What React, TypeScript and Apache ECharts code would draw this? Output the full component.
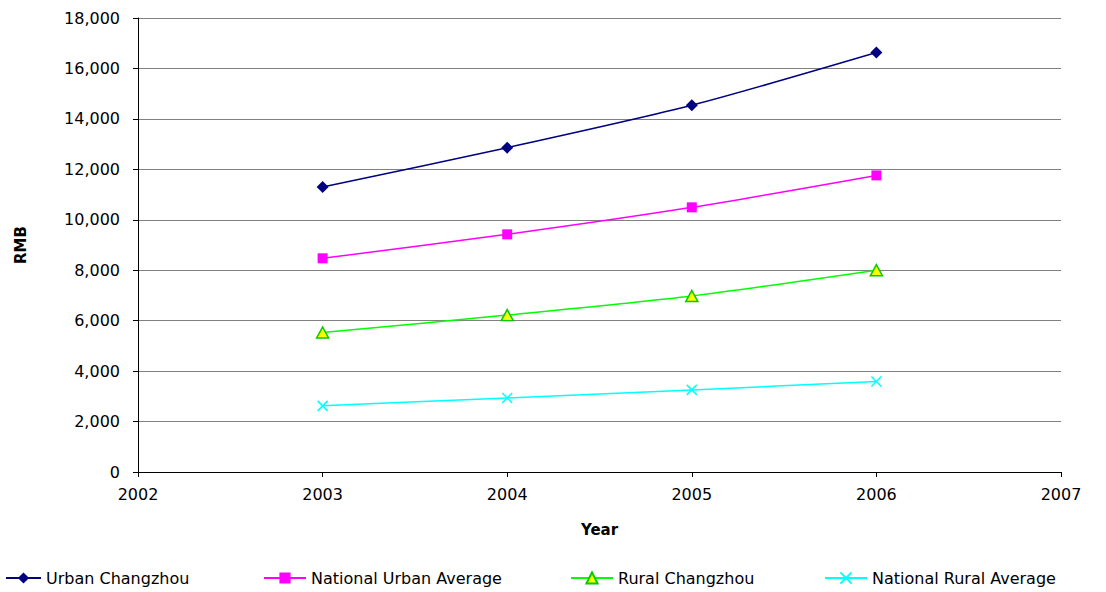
import React, { useEffect, useRef } from "react";
import * as echarts from "echarts";

const years = [2003, 2004, 2005, 2006];
const urbanChangzhou = [11300, 12860, 14540, 16630];
const nationalUrban = [8472, 9422, 10493, 11759];
const ruralChangzhou = [5530, 6220, 6980, 8000];
const nationalRural = [2622, 2936, 3255, 3587];
const seriesNames = [
  "Urban Changzhou",
  "National Urban Average",
  "Rural Changzhou",
  "National Rural Average",
];

const FONT = "DejaVu Sans";

export default function App() {
  const ref = useRef<HTMLDivElement>(null);
  useEffect(() => {
    if (!ref.current) return;
    const chart = echarts.init(ref.current, undefined, { renderer: "svg" });
    const pairs = (vals: number[]) => years.map((y, i) => [y, vals[i]]);
    const legendBase = {
      orient: "horizontal",
      top: 565,
      itemWidth: 42,
      itemHeight: 14,
      textStyle: { fontFamily: FONT, fontSize: 16, color: "#000" },
    };
    chart.setOption({
      animation: false,
      backgroundColor: "#fff",
      grid: { left: 138, right: 45, top: 18, bottom: 120, containLabel: false },
      legend: [
        { ...legendBase, left: 0, itemWidth: 35, data: [seriesNames[0]] },
        { ...legendBase, left: 258, data: [seriesNames[1]] },
        { ...legendBase, left: 565, data: [seriesNames[2]] },
        { ...legendBase, left: 819, data: [seriesNames[3]] },
      ],
      xAxis: {
        type: "value",
        min: 2002,
        max: 2007,
        interval: 1,
        name: "Year",
        nameLocation: "middle",
        nameGap: 50,
        nameTextStyle: { fontFamily: FONT, fontSize: 15, fontWeight: "bold", color: "#000" },
        axisLine: { show: true, onZero: false, lineStyle: { color: "#000", width: 1 } },
        axisTick: { show: true, length: 5, lineStyle: { color: "#000" } },
        axisLabel: { fontFamily: FONT, fontSize: 16, color: "#000", margin: 14, formatter: (v: number) => String(v) },
        splitLine: { show: false },
      },
      yAxis: {
        type: "value",
        min: 0,
        max: 18000,
        interval: 2000,
        name: "RMB",
        nameLocation: "middle",
        nameGap: 110,
        nameRotate: 90,
        nameTextStyle: { fontFamily: FONT, fontSize: 15, fontWeight: "bold", color: "#000" },
        axisLine: { show: true, lineStyle: { color: "#000", width: 1 } },
        axisTick: { show: true, length: 5, lineStyle: { color: "#000" } },
        axisLabel: {
          fontFamily: FONT,
          fontSize: 16,
          color: "#000",
          margin: 18,
          formatter: (v: number) => v.toLocaleString("en-US"),
        },
        splitLine: { show: true, lineStyle: { color: "#808080", width: 1 } },
      },
      series: [
        {
          name: seriesNames[0],
          type: "line",
          data: pairs(urbanChangzhou),
          smooth: 0.25,
          symbol: "diamond",
          symbolSize: 12,
          lineStyle: { color: "#000080", width: 1.5 },
          itemStyle: { color: "#000080" },
        },
        {
          name: seriesNames[1],
          type: "line",
          data: pairs(nationalUrban),
          smooth: 0.25,
          symbol: "rect",
          symbolSize: 10,
          lineStyle: { color: "#FF00FF", width: 1.5 },
          itemStyle: { color: "#FF00FF" },
        },
        {
          name: seriesNames[2],
          type: "line",
          data: pairs(ruralChangzhou),
          smooth: 0.25,
          symbol: "triangle",
          symbolSize: [12, 11],
          lineStyle: { color: "#00FF00", width: 1.5 },
          itemStyle: { color: "#FFFF00", borderColor: "#00CC00", borderWidth: 1.5 },
        },
        {
          name: seriesNames[3],
          type: "line",
          data: pairs(nationalRural),
          smooth: 0.25,
          symbol: "path://M0,0L10,10M10,0L0,10",
          symbolSize: 10,
          lineStyle: { color: "#00FFFF", width: 1.5 },
          itemStyle: { color: "#00FFFF", borderColor: "#00FFFF", borderWidth: 1.5 },
        },
      ],
    });
    return () => chart.dispose();
  }, []);
  return (
    <div
      ref={ref}
      style={{ position: "fixed", left: 0, top: 0, width: 1106, height: 592, background: "#fff" }}
    />
  );
}
